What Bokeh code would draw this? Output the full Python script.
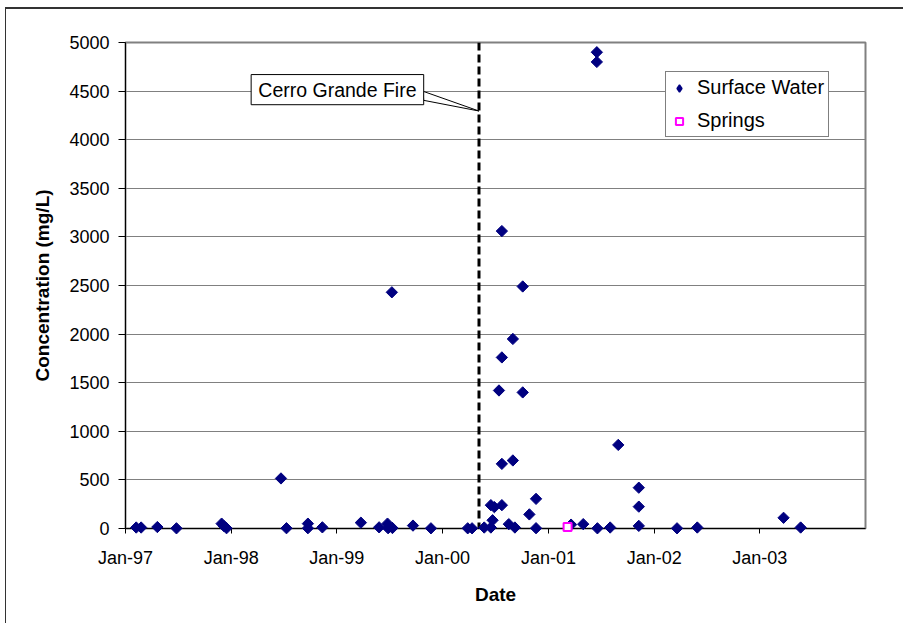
import numpy as np
import pandas as pd
from bokeh.plotting import figure
from bokeh.models import (FixedTicker, DatetimeTickFormatter, Span, Legend, LegendItem,
                          ColumnDataSource, Range1d)
from bokeh.embed import file_html
from bokeh.resources import INLINE
from bokeh.core.properties import value

# ---------------- data ----------------
sw_dates = [
    "1997-02-07", "1997-02-24", "1997-04-21", "1997-06-26", "1997-11-29", "1997-12-07", "1997-12-16",
    "1998-06-22", "1998-07-11", "1998-09-23", "1998-09-23", "1998-11-12",
    "1999-03-25", "1999-05-27", "1999-06-25", "1999-06-27", "1999-07-10", "1999-07-12",
    "1999-09-21", "1999-11-22",
    "2000-03-28", "2000-04-12", "2000-05-24", "2000-06-16", "2000-06-16", "2000-06-22",
    "2000-06-28", "2000-07-14", "2000-07-24", "2000-07-24", "2000-07-24", "2000-07-24",
    "2000-08-17", "2000-08-31", "2000-08-31", "2000-09-07", "2000-10-04", "2000-10-04",
    "2000-10-27", "2000-11-19", "2000-11-19",
    "2001-03-20", "2001-05-01", "2001-06-17", "2001-06-17", "2001-06-19", "2001-08-02",
    "2001-08-30", "2001-11-09", "2001-11-09", "2001-11-09",
    "2002-03-21", "2002-05-30",
    "2003-03-24", "2003-05-22",
]
sw_values = [
    10, 10, 15, 2, 50, 25, 3,
    515, 3, 50, 3, 12,
    60, 12, 50, 3, 2430, 5,
    30, 2,
    2, 2, 10, 240, 10, 85,
    220, 1420, 3060, 1760, 665, 240,
    45, 1950, 700, 10, 2490, 1400,
    145, 305, 3,
    40, 45, 4900, 4800, 2, 10,
    860, 420, 225, 27,
    2, 10,
    110, 10,
]
spring_dates = ["2001-03-08"]
spring_values = [16]

fire_date = "2000-05-06"
fire_label = "Cerro Grande Fire"

x_tick_dates = ["1997-01-01", "1998-01-01", "1999-01-01", "2000-01-01",
                "2001-01-01", "2002-01-01", "2003-01-01"]
y_ticks = [0, 500, 1000, 1500, 2000, 2500, 3000, 3500, 4000, 4500, 5000]

series_names = ["Surface Water", "Springs"]


def ms(s):
    return pd.Timestamp(s).value / 1e6


FONT = "Liberation Sans"
NAVY = "#000080"
MAGENTA = "#FF00FF"

sw_src = ColumnDataSource(dict(x=[ms(d) for d in sw_dates], y=sw_values))
sp_src = ColumnDataSource(dict(x=[ms(d) for d in spring_dates], y=spring_values))

p = figure(width=898, height=616, x_axis_type="datetime",
           x_range=Range1d(ms("1997-01-01"), ms("2004-01-01")),
           y_range=Range1d(0, 5000),
           output_backend="svg", toolbar_location=None,
           min_border_left=119, min_border_right=39, min_border_top=33, min_border_bottom=97,
           background_fill_color="white", border_fill_color="white",
           styles={"border-top": "2px solid #333333", "border-left": "1px solid #333333",
                   "margin-left": "5px", "margin-top": "7px"})

p.outline_line_color = "#808080"
p.outline_line_width = 2
p.xgrid.visible = False
p.ygrid.grid_line_color = "#808080"
p.ygrid.grid_line_width = 1
p.ygrid.ticker = FixedTicker(ticks=y_ticks)

p.yaxis.ticker = FixedTicker(ticks=y_ticks)
p.xaxis.ticker = FixedTicker(ticks=[ms(d) for d in x_tick_dates])
fmt = "%b-%y"
p.xaxis.formatter = DatetimeTickFormatter(years=fmt, months=fmt, days=fmt, hours=fmt,
                                          minutes=fmt, seconds=fmt, milliseconds=fmt,
                                          microseconds=fmt, hourmin=fmt, minsec=fmt)

for ax in (p.xaxis[0], p.yaxis[0]):
    ax.axis_line_color = "black"
    ax.axis_line_width = 1
    ax.major_tick_line_color = "black"
    ax.major_tick_in = 0
    ax.minor_tick_line_color = None
    ax.major_label_text_font = FONT
    ax.major_label_text_font_size = "18px"
    ax.major_label_text_color = "black"
    ax.axis_label_text_font = FONT
    ax.axis_label_text_font_size = "19px"
    ax.axis_label_text_font_style = "bold"
    ax.axis_label_text_color = "black"

p.xaxis.major_tick_out = 5
p.yaxis.major_tick_out = 7
p.xaxis.major_label_standoff = 14
p.yaxis.major_label_standoff = 9
p.xaxis.axis_label = "Date"
p.yaxis.axis_label = "Concentration (mg/L)"
p.xaxis.axis_label_standoff = 13
p.yaxis.axis_label_standoff = 13

# fire line
fire = Span(location=ms(fire_date), dimension="height", line_color="black",
            line_width=3, line_dash="8 4")
p.add_layout(fire)

# callout box
box_l, box_r = ms("1998-03-11"), ms("1999-10-28")
box_t, box_b = 4670, 4360
p.patch(x=[box_r - 2 * 86400000, box_r, ms(fire_date)], y=[4498, 4405, 4295],
        fill_color="white", line_color="black", line_width=1)
p.quad(left=box_l, right=box_r, top=box_t, bottom=box_b,
       fill_color="white", line_color="black", line_width=1)
p.text(x=[(box_l + box_r) / 2], y=[(box_t + box_b) / 2], text=[fire_label],
       text_font=value(FONT), text_font_size="19.5px", text_align="center",
       text_baseline="middle", text_color="black")

r_sw = p.scatter("x", "y", source=sw_src, marker="square", angle=np.pi / 4, size=8,
                 fill_color=NAVY, line_color=NAVY, line_width=1)
r_sp = p.scatter("x", "y", source=sp_src, marker="square", size=8,
                 fill_color="white", line_color=MAGENTA, line_width=2)
r_sw.level = "overlay"
r_sp.level = "overlay"

# legend proxy glyph (diamond shape for the legend swatch; not drawn in the plot)
proxy = ColumnDataSource(dict(x=[float("nan")], y=[float("nan")]))
r_sw_leg = p.scatter("x", "y", source=proxy, marker="diamond", size=13,
                     fill_color=NAVY, line_color=NAVY, line_width=1.5)

legend = Legend(items=[LegendItem(label=series_names[0], renderers=[r_sw_leg]),
                       LegendItem(label=series_names[1], renderers=[r_sp])],
                location=(540, 391), orientation="vertical")
legend.border_line_color = "black"
legend.border_line_width = 1
legend.background_fill_color = "white"
legend.background_fill_alpha = 1
legend.label_text_font = FONT
legend.label_text_font_size = "20px"
legend.label_text_color = "black"
legend.padding = 4
legend.spacing = 10
legend.margin = 0
legend.glyph_height = 22
legend.glyph_width = 18
legend.label_height = 22
legend.label_standoff = 9
p.add_layout(legend)

open("out.html", "w").write(file_html(p, INLINE))
